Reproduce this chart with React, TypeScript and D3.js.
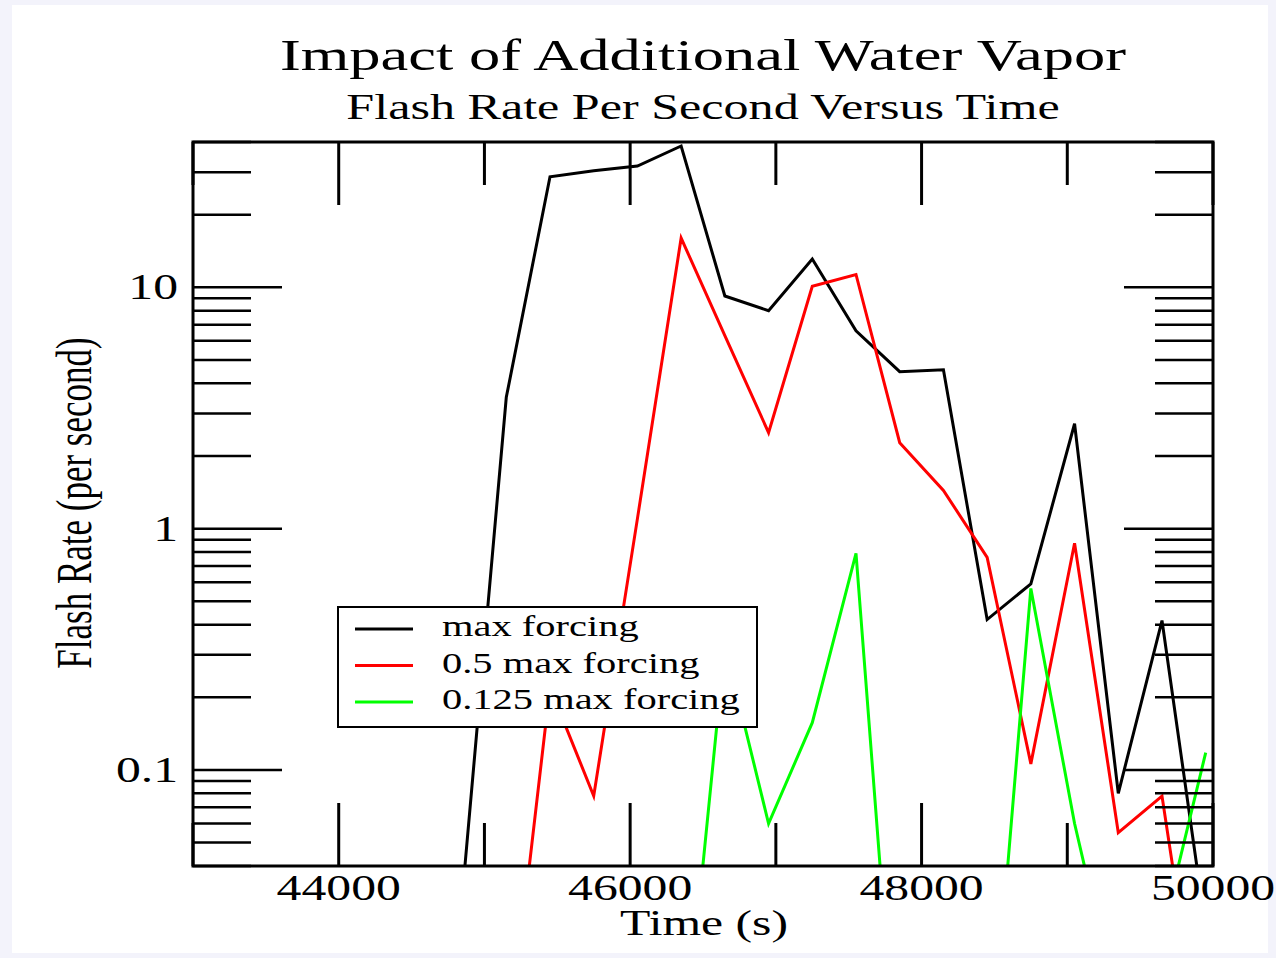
import React from "react";
import * as d3 from "d3";

// sample times (s) and flash rates (per second)
const times = [44850, 45150, 45450, 45750, 46050, 46350, 46650, 46950, 47250, 47550, 47850, 48150, 48450, 48750, 49050, 49350, 49650, 49950];
const maxForcing = [0.031, 3.5, 28.7, 30.4, 31.8, 38.5, 9.2, 8.0, 13.1, 6.6, 4.47, 4.55, 0.42, 0.59, 2.72, 0.08, 0.416, 0.022];
const halfForcing = [null, 0.006, 0.22, 0.078, 1.1, 16.0, 6.3, 2.5, 10.1, 11.3, 2.27, 1.44, 0.76, 0.106, 0.87, 0.055, 0.078, 0.005];
const eighthForcing = [null, null, null, null, null, 0.005, 0.33, 0.06, 0.157, 0.79, 0.0035, 0.003, 0.0038, 0.565, 0.06, 0.01, 0.021, 0.118];

const seriesNames = ["max forcing", "0.5 max forcing", "0.125 max forcing"];
const seriesColors = ["#000000", "#ff0000", "#00ff00"];
const xTickLabels = ["44000", "46000", "48000", "50000"];
const yTickLabels = ["10", "1", "0.1"];

const W = 1276;
const H = 958;
const SX = 1.42; // the picture is stretched horizontally
const FONT = "'Liberation Serif', 'DejaVu Serif', serif";

const left = 193, right = 1213, top = 142, bottom = 866;

const SText = ({ x, y, size, anchor = "middle", children }: any) => (
  <text
    transform={`translate(${x},${y}) scale(${SX},1)`}
    textAnchor={anchor}
    fontSize={size}
    fontFamily={FONT}
    fill="#000"
  >
    {children}
  </text>
);

export default function App() {
  const x = d3.scaleLinear().domain([43000, 50000]).range([left, right]);
  const y = d3.scaleLog().domain([0.04, 40]).range([bottom, top]);

  const allSeries = [maxForcing, halfForcing, eighthForcing];
  const line = d3
    .line<[number, number | null]>()
    .defined((d) => d[1] != null)
    .x((d) => x(d[0]))
    .y((d) => y(d[1] as number));

  const xTicks = d3.range(43000, 50001, 1000);
  const yTicks = y.ticks();
  const isMajor = (v: number) => Math.abs(Math.log10(v) - Math.round(Math.log10(v))) < 1e-9;

  const legendX = 338, legendY = 607, legendW = 419, legendH = 120;

  return (
    <svg width={W} height={H} style={{ position: "absolute", left: 0, top: 0, display: "block" }}>
      <rect x={0} y={0} width={W} height={H} fill="#f3f3fb" />
      <rect x={12} y={5} width={1256} height={948} fill="#ffffff" />

      <SText x={703} y={70} size={44}>Impact of Additional Water Vapor</SText>
      <SText x={703} y={119} size={35.3}>Flash Rate Per Second Versus Time</SText>

      <defs>
        <clipPath id="plot">
          <rect x={left} y={top} width={right - left} height={bottom - top} />
        </clipPath>
      </defs>

      <g clipPath="url(#plot)">
        {allSeries.map((s, i) => (
          <path
            key={i}
            d={line(times.map((t, j) => [t, s[j]] as [number, number | null])) || ""}
            fill="none"
            stroke={seriesColors[i]}
            strokeWidth={3}
            strokeLinejoin="miter"
          />
        ))}
      </g>

      {/* x ticks, bottom and top */}
      {xTicks.map((t) => {
        const len = t % 2000 === 0 ? 63 : 43;
        return (
          <g key={t}>
            <line x1={x(t)} x2={x(t)} y1={bottom} y2={bottom - len} stroke="#000" strokeWidth={3} />
            <line x1={x(t)} x2={x(t)} y1={top} y2={top + len} stroke="#000" strokeWidth={3} />
          </g>
        );
      })}

      {/* y ticks, left and right */}
      {yTicks.map((v, i) => {
        const len = isMajor(v) ? 89 : 58;
        return (
          <g key={i}>
            <line x1={left} x2={left + len} y1={y(v)} y2={y(v)} stroke="#000" strokeWidth={2.5} />
            <line x1={right} x2={right - len} y1={y(v)} y2={y(v)} stroke="#000" strokeWidth={2.5} />
          </g>
        );
      })}

      <rect x={left} y={top} width={right - left} height={bottom - top} fill="none" stroke="#000" strokeWidth={3} />

      {xTickLabels.map((l) => (
        <SText key={l} x={x(+l)} y={900} size={35}>{l}</SText>
      ))}
      {yTickLabels.map((l) => (
        <SText key={l} x={178} y={y(+l) + 12} size={35} anchor="end">{l}</SText>
      ))}

      <SText x={704} y={935} size={35}>Time (s)</SText>
      <text
        transform={`translate(91,503) scale(${SX},1) rotate(-90)`}
        textAnchor="middle"
        fontSize={35}
        fontFamily={FONT}
        fill="#000"
      >
        Flash Rate (per second)
      </text>

      {/* legend */}
      <rect x={legendX} y={legendY} width={legendW} height={legendH} fill="#fff" stroke="#000" strokeWidth={2} />
      {seriesNames.map((n, i) => {
        const ly = 629 + i * 36.5;
        return (
          <g key={n}>
            <line x1={355} x2={413} y1={ly} y2={ly} stroke={seriesColors[i]} strokeWidth={3} />
            <SText x={442} y={ly + 7} size={28.5} anchor="start">{n}</SText>
          </g>
        );
      })}
    </svg>
  );
}
